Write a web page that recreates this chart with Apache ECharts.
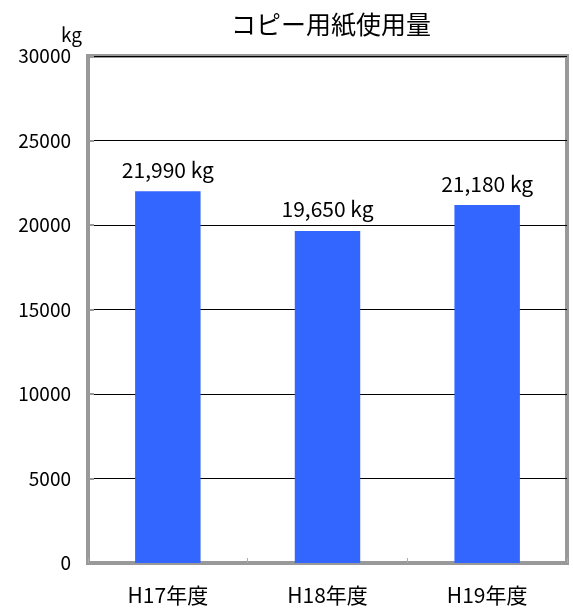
<!DOCTYPE html>
<html><head><meta charset="utf-8">
<script src="https://cdn.jsdelivr.net/npm/echarts@6/dist/echarts.min.js"></script>
<style>html,body{margin:0;padding:0;background:#fff}#c{width:573px;height:610px}</style>
</head><body><div id="c"></div>
<script>
const categories = ['H17年度', 'H18年度', 'H19年度'];
const values = [21990, 19650, 21180];
const yTicks = [0, 5000, 10000, 15000, 20000, 25000, 30000];
const font = '"Noto Sans CJK JP", "Noto Sans", sans-serif';
const chart = echarts.init(document.getElementById('c'));
chart.setOption({
  animation: false,
  backgroundColor: '#fff',
  title: { text: 'コピー用紙使用量', left: 326, top: 7, textAlign: 'center',
    textStyle: { fontFamily: font, fontSize: 25, fontWeight: 'normal', color: '#000' } },
  grid: { left: 88, right: 6, top: 56, bottom: 47, show: true, borderColor: '#999', borderWidth: 4, backgroundColor: 'transparent' },
  xAxis: { type: 'category', data: categories,
    axisLine: { show: true, lineStyle: { color: '#999', width: 4 } },
    axisTick: { show: true, inside: true, length: 5, lineStyle: { color: '#aaa' } },
    axisLabel: { fontFamily: font, fontSize: 21, color: '#000', margin: 22 } },
  yAxis: { type: 'value', min: 0, max: 30000, interval: 5000,
    name: 'kg', nameLocation: 'end', nameGap: 12,
    nameTextStyle: { fontFamily: font, fontSize: 19, color: '#000', align: 'right', padding: [0, 6, 0, 0] },
    axisLine: { show: true, lineStyle: { color: '#999', width: 4 } },
    axisTick: { show: true, inside: true, length: 6, lineStyle: { color: '#999', width: 2 } },
    splitLine: { show: true, lineStyle: { color: '#000', width: 1 } },
    axisLabel: { fontFamily: font, fontSize: 19, color: '#000', margin: 17,
      formatter: v => yTicks.includes(v) ? String(v) : '' } },
  series: [{ type: 'bar', data: values, barWidth: '41%',
    itemStyle: { color: '#3366FF' },
    label: { show: true, position: 'top', distance: 11, fontFamily: font, fontSize: 21, color: '#000',
      formatter: p => p.value.toLocaleString('en-US') + ' kg' } }]
});
</script></body></html>
